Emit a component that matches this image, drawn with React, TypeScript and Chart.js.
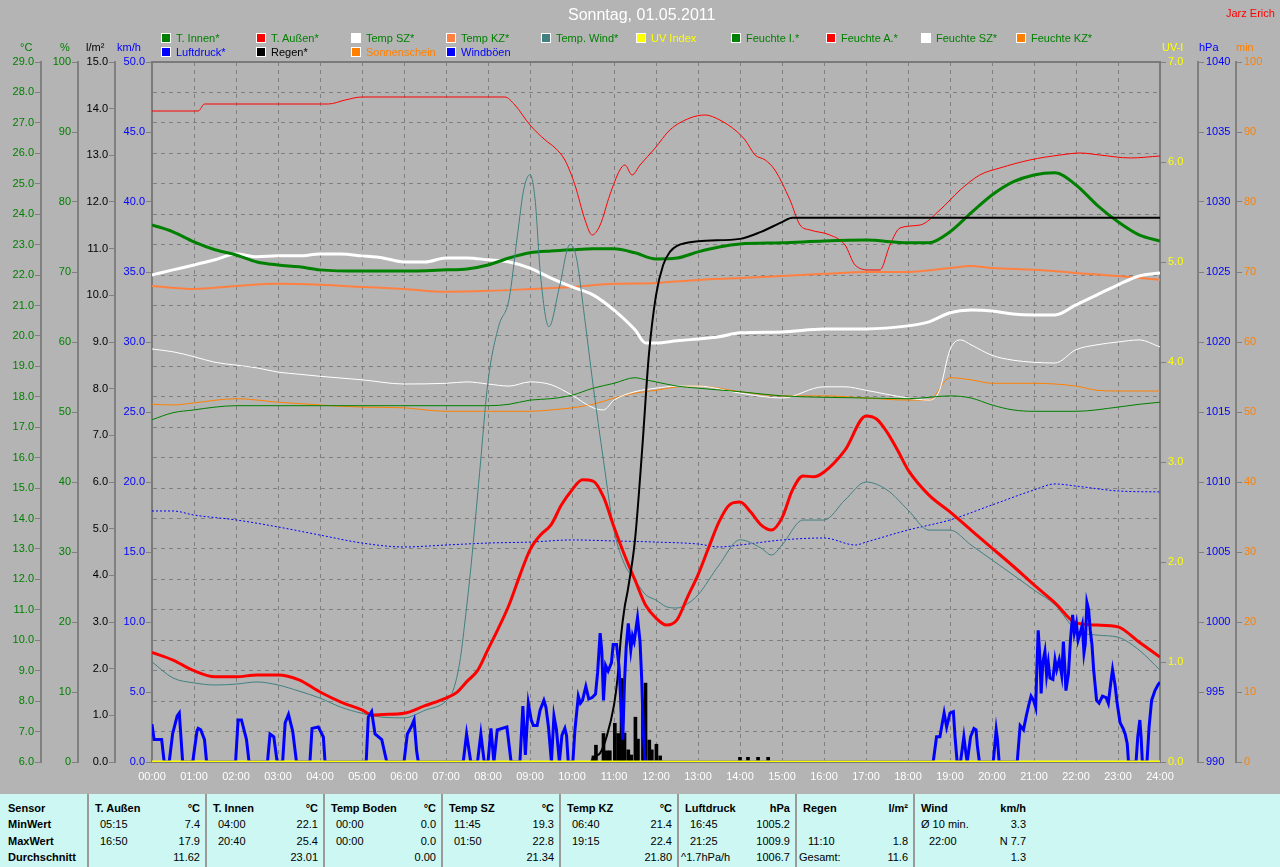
import React, { useEffect, useRef } from "react";
import { Chart, registerables } from "chart.js";

Chart.register(...registerables);

// ---------------- data (hour of day, value) ----------------
const xTickLabels = ["00:00","01:00","02:00","03:00","04:00","05:00","06:00","07:00","08:00","09:00","10:00","11:00","12:00","13:00","14:00","15:00","16:00","17:00","18:00","19:00","20:00","21:00","22:00","23:00","24:00"];

const tInnen: [number, number][] = [[0,23.65],[0.5,23.42],[1,23.09],[1.5,22.83],[2,22.66],[2.5,22.43],[3,22.33],[3.5,22.27],[4,22.17],[5,22.13],[6,22.13],[7,22.17],[7.5,22.2],[8,22.33],[8.5,22.56],[9,22.73],[9.5,22.79],[10,22.83],[10.5,22.86],[11,22.86],[11.5,22.73],[12,22.53],[12.5,22.56],[13,22.76],[13.5,22.92],[14,23.02],[15,23.06],[16,23.12],[17,23.15],[18,23.06],[18.5,23.06],[19,23.42],[19.5,24.04],[20,24.63],[20.5,25.06],[21,25.29],[21.5,25.36],[22,24.96],[22.5,24.3],[23,23.75],[23.5,23.32],[24,23.12]];

const tAussen: [number, number][] = [[0,9.6],[0.5,9.35],[1,9.0],[1.5,8.8],[2,8.8],[2.5,8.86],[3,8.86],[3.5,8.7],[4,8.3],[4.5,7.97],[5,7.71],[5.25,7.54],[5.5,7.56],[6,7.6],[6.5,7.85],[7,8.1],[7.25,8.28],[7.5,8.65],[7.75,9.0],[8,9.7],[8.25,10.4],[8.5,11.16],[8.75,12.1],[9,12.97],[9.25,13.46],[9.5,13.79],[9.75,14.45],[10,14.94],[10.25,15.27],[10.5,15.23],[10.75,14.71],[11,13.72],[11.25,12.8],[11.5,11.98],[11.75,11.16],[12,10.73],[12.25,10.5],[12.5,10.67],[12.75,11.42],[13,12.15],[13.25,13.03],[13.5,13.89],[13.75,14.45],[14,14.54],[14.25,14.22],[14.5,13.79],[14.75,13.62],[15,14.02],[15.25,14.94],[15.5,15.4],[15.75,15.37],[16,15.53],[16.5,16.25],[17,17.37],[17.25,17.27],[17.5,16.84],[17.75,16.25],[18,15.6],[18.5,14.77],[19,14.22],[19.5,13.62],[20,13.03],[20.5,12.44],[21,11.82],[21.5,11.23],[22,10.57],[22.5,10.5],[23,10.44],[23.5,9.94],[24,9.45]];

const tempSZ: [number, number][] = [[0,22.0],[0.5,22.17],[1,22.33],[1.5,22.5],[2,22.69],[2.5,22.6],[3,22.63],[3.5,22.63],[4,22.69],[4.5,22.69],[5,22.63],[5.5,22.56],[6,22.43],[6.5,22.43],[7,22.56],[7.5,22.56],[8,22.5],[8.5,22.43],[9,22.23],[9.5,21.9],[10,21.61],[10.5,21.35],[11,20.85],[11.5,20.2],[11.75,19.77],[12,19.77],[12.5,19.84],[13,19.9],[13.5,19.97],[14,20.1],[15,20.13],[16,20.23],[17,20.23],[18,20.33],[18.5,20.46],[19,20.76],[19.5,20.85],[20,20.82],[20.5,20.72],[21,20.69],[21.5,20.69],[22,21.02],[22.5,21.35],[23,21.68],[23.5,21.97],[24,22.07]];

const tempKZ: [number, number][] = [[0,21.64],[1,21.54],[2,21.64],[3,21.71],[4,21.68],[5,21.61],[6,21.54],[7,21.45],[8,21.48],[9,21.54],[10,21.61],[11,21.71],[12,21.74],[13,21.84],[14,21.9],[15,21.97],[16,22.04],[17,22.1],[18,22.1],[19,22.23],[19.5,22.3],[20,22.23],[21,22.17],[22,22.07],[23,21.97],[24,21.84]];

const tempWind: [number, number][] = [[0,9.29],[0.5,8.76],[1,8.6],[1.5,8.53],[2,8.56],[2.5,8.63],[3,8.53],[3.5,8.33],[4,8.1],[4.5,7.8],[5,7.6],[5.5,7.47],[6,7.45],[6.5,7.7],[7,8.0],[7.17,8.35],[7.33,9.3],[7.45,10.6],[7.6,12.5],[7.8,15.5],[8.0,18.5],[8.25,20.3],[8.5,21.2],[8.7,23.3],[8.85,24.8],[9.0,25.3],[9.12,24.5],[9.25,22.0],[9.45,20.3],[9.7,21.6],[9.95,23.0],[10.1,22.6],[10.3,20.6],[10.5,18.4],[10.75,15.9],[11.0,13.62],[11.25,12.5],[11.5,11.98],[11.75,11.5],[12.0,11.32],[12.25,11.1],[12.5,11.06],[12.75,11.2],[13.0,11.49],[13.5,12.47],[14.0,13.3],[14.5,13.03],[14.75,12.8],[15.0,13.13],[15.5,13.95],[16.0,13.95],[16.5,14.61],[17.0,15.2],[17.5,14.94],[18.0,14.28],[18.5,13.62],[19.0,13.62],[19.5,13.13],[20.0,12.64],[20.5,12.15],[21.0,11.65],[21.5,11.16],[22.0,10.34],[22.5,10.17],[23.0,10.1],[23.5,9.68],[24.0,9.02]];

const uvIndex: [number, number][] = [[0,0],[24,0]];

const feuchteI: [number, number][] = [[0,48.9],[0.5,49.9],[1,50.3],[1.5,50.7],[2,50.9],[8,50.9],[8.5,51.1],[9,51.7],[9.5,51.9],[10,52.4],[10.5,53.4],[11,54.1],[11.5,54.9],[11.75,54.6],[12,54.3],[12.5,53.7],[13,53.4],[14,52.9],[15,52.3],[16,52.1],[17,52.0],[18,51.9],[19,52.3],[19.5,52.0],[20,51.0],[20.5,50.3],[21,50.1],[22,50.1],[23,50.7],[23.5,51.1],[24,51.4]];

const feuchteA: [number, number][] = [[0,93.0],[1.1,93.0],[1.25,94.0],[4.2,94.0],[4.6,94.57],[5.0,95.0],[8.4,95.0],[8.64,93.86],[9.0,91.0],[9.36,88.86],[9.6,87.71],[9.83,86.0],[10.07,82.43],[10.31,77.43],[10.48,75.29],[10.67,76.71],[10.9,81.0],[11.14,84.57],[11.26,85.29],[11.43,83.86],[11.62,85.29],[11.98,87.71],[12.33,90.29],[12.81,92.0],[13.17,92.43],[13.52,91.71],[13.88,90.29],[14.12,88.86],[14.36,86.71],[14.6,86.0],[14.83,84.57],[15.19,80.29],[15.43,76.71],[15.67,76.0],[16.14,75.29],[16.5,73.86],[16.74,71.0],[17.1,70.29],[17.33,70.29],[17.57,73.86],[17.81,76.29],[18.29,76.71],[18.76,78.86],[19.24,81.71],[19.71,83.86],[20.19,84.86],[20.9,86.0],[21.62,86.71],[22.1,87.0],[22.57,86.71],[23.29,86.29],[24,86.57]];

const feuchteSZ: [number, number][] = [[0,59.0],[0.5,58.6],[1,57.9],[1.5,57.1],[2,56.7],[2.5,56.3],[3,55.7],[3.5,55.4],[4,55.1],[5,54.6],[6,54.0],[7,54.1],[7.5,54.3],[8,54.0],[8.5,53.7],[9,54.3],[9.5,53.9],[10,52.4],[10.5,50.6],[10.75,50.3],[11,51.7],[11.5,52.9],[12,53.4],[12.5,53.7],[13,53.7],[14,52.7],[15,52.0],[16,53.6],[16.5,53.6],[17,53.1],[18,52.0],[18.5,51.7],[18.75,53.1],[19,58.9],[19.25,60.3],[19.5,59.6],[20,58.1],[20.5,57.4],[21,57.1],[21.5,57.0],[22,58.9],[22.5,59.6],[23,60.0],[23.5,60.3],[24,59.3]];

const feuchteKZ: [number, number][] = [[0,51.1],[0.5,51.0],[1,51.3],[2,51.9],[3,51.4],[4,51.0],[5,50.7],[6,50.6],[6.5,50.3],[7,50.1],[8,50.1],[9,50.1],[9.5,50.3],[10,50.6],[10.5,51.1],[11,52.0],[11.5,52.7],[12,53.1],[12.5,53.6],[13,53.7],[14,52.9],[15,52.3],[16,52.3],[17,52.0],[18,51.7],[18.5,51.7],[19,54.9],[19.5,54.6],[20,54.1],[21,54.1],[22,53.7],[22.5,53.1],[23,53.0],[24,53.0]];

const luftdruck: [number, number][] = [[0,1007.93],[0.5,1007.93],[1,1007.64],[2,1007.29],[3,1006.79],[4,1006.21],[5,1005.64],[6,1005.36],[7,1005.5],[8,1005.64],[9,1005.71],[10,1005.86],[11,1005.79],[12,1005.71],[13,1005.57],[13.5,1005.36],[14,1005.5],[15,1005.86],[16,1006.0],[16.75,1005.5],[17,1005.71],[18,1006.57],[19,1007.29],[20,1008.36],[21,1009.43],[21.5,1009.86],[22,1009.71],[23,1009.36],[24,1009.29]];

const regenSumme: [number, number][] = [[0,0],[10.45,0],[10.5,0.09],[10.67,0.19],[10.83,0.56],[11.0,1.22],[11.08,1.76],[11.17,2.72],[11.25,3.3],[11.33,3.69],[11.5,4.76],[11.67,6.69],[11.83,8.72],[12.0,10.0],[12.17,10.65],[12.33,10.93],[12.5,11.06],[13.0,11.16],[14.0,11.21],[14.5,11.36],[15.0,11.57],[15.25,11.66],[24,11.66]];

const regenMenge: [number, number][] = [[10.51,0.13],[10.57,0.36],[10.75,0.61],[10.83,0.24],[10.9,0.24],[11.02,0.83],[11.1,0.61],[11.18,1.79],[11.25,0.62],[11.34,0.26],[11.41,0.15],[11.51,0.96],[11.57,0.49],[11.69,1.33],[11.75,1.69],[11.84,0.47],[11.9,0.26],[12.01,0.38],[12.1,0.13],[14.0,0.1],[14.19,0.1],[14.43,0.1],[14.67,0.1]];

const sonnenschein: [number, number][] = [[0,0],[24,0]];

const windboeen: [number, number][] = [[0.00,2.7],[0.05,1.6],[0.23,1.6],[0.29,0],[0.41,0],[0.49,2.0],[0.60,3.3],[0.65,3.5],[0.73,0],[0.97,0],[1.07,2.2],[1.10,2.4],[1.16,2.3],[1.25,1.6],[1.30,0],[1.99,0],[2.05,3.0],[2.13,3.0],[2.25,1.6],[2.31,0],[2.75,0],[2.81,2.0],[2.90,1.8],[2.98,0],[3.11,0],[3.17,2.8],[3.25,3.4],[3.35,2.2],[3.44,0],[3.76,0],[3.81,2.4],[3.96,2.5],[4.08,1.8],[4.12,0],[5.10,0],[5.15,3.2],[5.23,3.6],[5.31,2.0],[5.47,1.6],[5.59,0],[6.00,0],[6.08,2.0],[6.17,2.5],[6.24,3.0],[6.30,0.8],[6.34,0],[7.41,0],[7.49,2.0],[7.59,0],[7.75,0],[7.83,2.0],[7.91,0],[8.00,0],[8.07,2.4],[8.14,0],[8.22,2.3],[8.45,2.5],[8.55,0],[8.76,0],[8.83,4.0],[8.89,0.5],[8.96,4.2],[9.03,3.0],[9.08,2.6],[9.17,2.6],[9.24,3.7],[9.33,4.4],[9.38,3.9],[9.44,2.5],[9.51,0],[9.57,3.3],[9.63,2.3],[9.70,0],[9.76,1.9],[9.83,2.4],[9.87,1.9],[9.91,0],[10.02,0],[10.07,2.3],[10.15,4.7],[10.20,4.2],[10.25,4.4],[10.33,5.4],[10.40,4.5],[10.48,4.6],[10.56,4.85],[10.61,6.4],[10.67,9.2],[10.71,7.9],[10.75,4.4],[10.80,6.9],[10.86,6.5],[10.94,7.1],[10.98,8.4],[11.06,8.4],[11.12,6.8],[11.16,4.4],[11.21,1.6],[11.25,5.7],[11.29,8.2],[11.34,9.9],[11.40,8.0],[11.44,9.0],[11.48,8.6],[11.56,10.3],[11.62,8.6],[11.66,5.9],[11.70,2.0],[11.74,0],[18.60,0],[18.68,1.8],[18.76,1.8],[18.80,2.5],[18.86,3.5],[18.92,2.5],[19.00,3.5],[19.08,3.6],[19.12,1.8],[19.17,0],[19.25,0],[19.33,1.8],[19.38,0.6],[19.41,0],[19.49,1.8],[19.57,2.4],[19.62,2.3],[19.65,1.2],[19.70,0],[20.03,0],[20.10,2.3],[20.13,1.6],[20.17,0],[20.60,0],[20.67,2.6],[20.75,2.3],[20.81,3.2],[20.87,4.0],[20.93,4.7],[20.99,4.4],[21.04,3.9],[21.06,5.9],[21.10,9.4],[21.14,7.5],[21.17,4.9],[21.21,7.1],[21.26,7.9],[21.30,6.2],[21.34,7.1],[21.38,6.0],[21.45,5.9],[21.50,7.3],[21.54,6.6],[21.60,7.3],[21.66,6.2],[21.70,8.6],[21.73,7.0],[21.76,5.1],[21.82,6.3],[21.87,8.8],[21.92,10.5],[21.96,9.2],[22.01,9.9],[22.05,8.7],[22.10,9.2],[22.15,9.8],[22.19,7.8],[22.22,8.4],[22.26,11.4],[22.30,10.9],[22.34,9.4],[22.38,8.4],[22.42,6.6],[22.49,4.4],[22.55,4.2],[22.63,4.7],[22.72,4.6],[22.77,4.2],[22.83,5.7],[22.87,6.6],[22.93,5.5],[22.98,4.2],[23.05,2.8],[23.12,2.4],[23.17,2.0],[23.22,1.3],[23.25,0],[23.43,0],[23.47,1.8],[23.52,3.0],[23.55,1.8],[23.58,0],[23.69,0],[23.74,2.5],[23.80,4.4],[23.88,5.1],[23.95,5.5],[24.0,5.7]];

// legend: [label, box colour, text colour]
const legendRow1: [string, string, string][] = [
  ["T. Innen*", "#008000", "#008000"],
  ["T. Außen*", "#ff0000", "#008000"],
  ["Temp SZ*", "#ffffff", "#008000"],
  ["Temp KZ*", "#ff8040", "#008000"],
  ["Temp. Wind*", "#408080", "#008000"],
  ["UV Index", "#ffff00", "#ffff00"],
  ["Feuchte I.*", "#008000", "#008000"],
  ["Feuchte A.*", "#ff0000", "#008000"],
  ["Feuchte SZ*", "#ffffff", "#008000"],
  ["Feuchte KZ*", "#ff8000", "#008000"],
];
const legendRow2: [string, string, string][] = [
  ["Luftdruck*", "#0000ff", "#0000ff"],
  ["Regen*", "#000000", "#000000"],
  ["Sonnenschein", "#ff8000", "#ff8000"],
  ["Windböen", "#0000ff", "#0000ff"],
];

// summary table
const tableHeaders = ["T. Außen", "T. Innen", "Temp Boden", "Temp SZ", "Temp KZ", "Luftdruck", "Regen", "Wind"];
const tableUnits = ["°C", "°C", "°C", "°C", "°C", "hPa", "l/m²", "km/h"];
const minTimes = ["05:15", "04:00", "00:00", "11:45", "06:40", "16:45", "", "Ø 10 min."];
const minValues = ["7.4", "22.1", "0.0", "19.3", "21.4", "1005.2", "", "3.3"];
const maxTimes = ["16:50", "20:40", "00:00", "01:50", "19:15", "21:25", "11:10", "22:00"];
const maxValues = ["17.9", "25.4", "0.0", "22.8", "22.4", "1009.9", "1.8", "N 7.7"];
const avgLabels = ["", "", "", "", "", "^1.7hPa/h", "Gesamt:", ""];
const avgValues = ["11.62", "23.01", "0.00", "21.34", "21.80", "1006.7", "11.6", "1.3"];
const rowLabels = ["Sensor", "MinWert", "MaxWert", "Durchschnitt"];

// ---------------- chart ----------------
const BG = "#b4b4b4";
const AXIS = "#808080";
const FONT = "Arial, 'Liberation Sans', sans-serif";

const pts = (arr: [number, number][]) => arr.map(([x, y]) => ({ x, y }));

function yAxis(position: string, weight: number, min: number, max: number, step: number, color: string, width: number, decimals: number, pad: number) {
  return {
    type: "linear",
    position,
    weight,
    min,
    max,
    afterFit: (s: any) => { s.width = width; },
    ticks: {
      stepSize: step,
      autoSkip: false,
      color,
      padding: pad,
      font: { family: FONT, size: 11 },
      callback: (v: any) => Number(v).toFixed(decimals),
    },
    grid: { drawOnChartArea: false, drawTicks: true, tickLength: 6, tickColor: AXIS, color: AXIS, lineWidth: 1 },
    border: { display: true, color: AXIS, width: 2 },
  };
}

function lineDs(label: string, data: [number, number][], color: string, width: number, yAxisID: string, order: number, extra: any = {}) {
  return {
    type: "line",
    label,
    data: pts(data),
    borderColor: color,
    backgroundColor: color,
    borderWidth: width,
    pointRadius: 0,
    fill: false,
    xAxisID: "x",
    yAxisID,
    order,
    cubicInterpolationMode: "monotone",
    ...extra,
  };
}

const framePlugin = {
  id: "frame",
  beforeDatasetsDraw(chart: any) {
    const { ctx, chartArea: a } = chart;
    ctx.save();
    ctx.strokeStyle = "#7a7a7a";
    ctx.lineWidth = 2;
    ctx.strokeRect(a.left, a.top, a.right - a.left, a.bottom - a.top);
    ctx.restore();
  },
};

export default function App() {
  const ref = useRef<HTMLCanvasElement>(null);

  useEffect(() => {
    if (!ref.current) return;
    const cTemp = yAxis("left", 4, 6, 29, 1, "#008000", 41, 1, 1);
    (cTemp as any).grid = { drawOnChartArea: true, drawTicks: true, tickLength: 6, tickColor: AXIS, color: AXIS, lineWidth: 1, tickBorderDash: [] };
    (cTemp as any).border = { display: true, color: AXIS, width: 2, dash: [4, 4] };

    const chart = new Chart(ref.current, {
      type: "line",
      data: {
        datasets: [
          lineDs("UV Index", uvIndex, "#ffff00", 3, "yUV", 0),
          lineDs("Windböen", windboeen, "#0000ff", 3, "yKmh", 1, { cubicInterpolationMode: "default", tension: 0 }),
          lineDs("Regen*", regenSumme, "#000000", 2, "yRain", 2),
          {
            type: "bar",
            label: "Regen Menge",
            data: pts(regenMenge),
            backgroundColor: "#000000",
            borderWidth: 0,
            barThickness: 3,
            xAxisID: "x",
            yAxisID: "yRain",
            order: 3,
          },
          lineDs("T. Außen*", tAussen, "#ff0000", 3, "yC", 4),
          lineDs("Temp. Wind*", tempWind, "#408080", 1, "yC", 5),
          lineDs("Luftdruck*", luftdruck, "#0000ff", 1, "yHpa", 6, { borderDash: [2, 2] }),
          lineDs("T. Innen*", tInnen, "#008000", 3, "yC", 7),
          lineDs("Temp SZ*", tempSZ, "#ffffff", 3, "yC", 8),
          lineDs("Temp KZ*", tempKZ, "#ff8040", 2, "yC", 9),
          lineDs("Feuchte I.*", feuchteI, "#008000", 1, "yPct", 10),
          lineDs("Feuchte A.*", feuchteA, "#ff0000", 1, "yPct", 11),
          lineDs("Feuchte SZ*", feuchteSZ, "#ffffff", 1, "yPct", 12),
          lineDs("Feuchte KZ*", feuchteKZ, "#ff8000", 1, "yPct", 13),
          lineDs("Sonnenschein", sonnenschein, "#ff8000", 1, "yMin", 14),
        ] as any,
      },
      options: {
        animation: false,
        responsive: false,
        maintainAspectRatio: false,
        events: [],
        layout: { padding: { top: 62, left: 0, right: 0, bottom: 0 } },
        plugins: { legend: { display: false }, tooltip: { enabled: false }, title: { display: false } },
        scales: {
          x: {
            type: "linear",
            position: "bottom",
            min: 0,
            max: 24,
            offset: false,
            afterFit: (s: any) => { s.height = 32; },
            ticks: {
              stepSize: 1,
              autoSkip: false,
              maxRotation: 0,
              color: "#ffffff",
              padding: 8,
              font: { family: FONT, size: 11 },
              callback: (v: any) => xTickLabels[Math.round(Number(v))],
            },
            grid: { color: AXIS, lineWidth: 1, drawTicks: false, offset: false },
            border: { display: false, dash: [4, 4] },
          },
          yC: cTemp,
          yPct: yAxis("left", 3, 0, 100, 10, "#008000", 37, 0, 1),
          yRain: yAxis("left", 2, 0, 15, 1, "#000000", 37, 1, 1),
          yKmh: yAxis("left", 1, 0, 50, 5, "#0000ff", 37, 1, 1),
          yUV: yAxis("right", 1, 0, 7, 1, "#ffff00", 38, 1, 2),
          yHpa: yAxis("right", 2, 990, 1040, 5, "#0000ff", 38, 0, 2),
          yMin: yAxis("right", 3, 0, 100, 10, "#ff8000", 44, 0, 2),
        } as any,
      },
      plugins: [framePlugin],
    });
    return () => chart.destroy();
  }, []);

  const seps = tableHeaders.map((_, i) => 88 + 118 * i);
  const rowTops = [7, 23, 40, 56];
  const cell = (left: number, top: number, text: string, bold = false, right = false, key?: string) => (
    <div
      key={key}
      style={{
        position: "absolute",
        left: right ? left - 110 : left,
        width: right ? 110 : undefined,
        textAlign: right ? "right" : "left",
        top,
        fontSize: 11,
        lineHeight: "14px",
        fontWeight: bold ? "bold" : "normal",
        color: "#000",
        whiteSpace: "nowrap",
      }}
    >
      {text}
    </div>
  );

  return (
    <div style={{ position: "absolute", left: 0, top: 0, width: 1280, height: 867, background: BG, overflow: "hidden", fontFamily: FONT }}>
      <canvas ref={ref} width={1280} height={794} style={{ position: "absolute", left: 0, top: 0, width: 1280, height: 794 }} />

      {/* title */}
      <div style={{ position: "absolute", left: 568, top: 6, fontSize: 16, lineHeight: "18px", color: "#ffffff", whiteSpace: "nowrap" }}>Sonntag, 01.05.2011</div>
      <div style={{ position: "absolute", left: 1226, top: 6, fontSize: 11, lineHeight: "14px", color: "#ff0000", whiteSpace: "nowrap" }}>Jarz Erich</div>

      {/* legend */}
      {[legendRow1, legendRow2].map((row, r) =>
        row.map(([label, box, txt], c) => (
          <div key={`lg${r}-${c}`} style={{ position: "absolute", left: 161 + c * 95, top: 31 + r * 14, height: 14, whiteSpace: "nowrap" }}>
            <div style={{ position: "absolute", left: 0, top: 2, width: 10, height: 10, boxSizing: "border-box", border: "1px solid #ffffff", background: box }} />
            <div style={{ position: "absolute", left: 15, top: 0, fontSize: 11, lineHeight: "14px", color: txt }}>{label}</div>
          </div>
        ))
      )}

      {/* axis unit titles */}
      {[
        ["°C", 20, "#008000"],
        ["%", 60, "#008000"],
        ["l/m²", 86, "#000000"],
        ["km/h", 117, "#0000ff"],
        ["UV-I", 1162, "#ffff00"],
        ["hPa", 1199, "#0000ff"],
        ["min", 1236, "#ff8000"],
      ].map(([t, x, c]) => (
        <div key={String(t)} style={{ position: "absolute", left: Number(x), top: 40, fontSize: 11, lineHeight: "14px", color: String(c), whiteSpace: "nowrap" }}>{t}</div>
      ))}

      {/* summary table */}
      <div style={{ position: "absolute", left: 0, top: 794, width: 1280, height: 73, background: "#ccf7f3" }}>
        {rowLabels.map((t, i) => cell(8, rowTops[i], t, true, false, `rl${i}`))}
        {seps.map((s, i) => (
          <React.Fragment key={`col${i}`}>
            <div style={{ position: "absolute", left: s - 1, top: 0, width: 2, height: 73, background: "#9a9a9a" }} />
            {cell(s + 7, rowTops[0], tableHeaders[i], true)}
            {cell(s + 112, rowTops[0], tableUnits[i], true, true)}
            {cell(i === 7 ? s + 7 : s + 12, rowTops[1], minTimes[i])}
            {cell(s + 112, rowTops[1], minValues[i], false, true)}
            {cell(i === 7 ? s + 15 : s + 12, rowTops[2], maxTimes[i])}
            {cell(s + 112, rowTops[2], maxValues[i], false, true)}
            {cell(s + 3, rowTops[3], avgLabels[i])}
            {cell(s + 112, rowTops[3], avgValues[i], false, true)}
          </React.Fragment>
        ))}
      </div>
    </div>
  );
}
